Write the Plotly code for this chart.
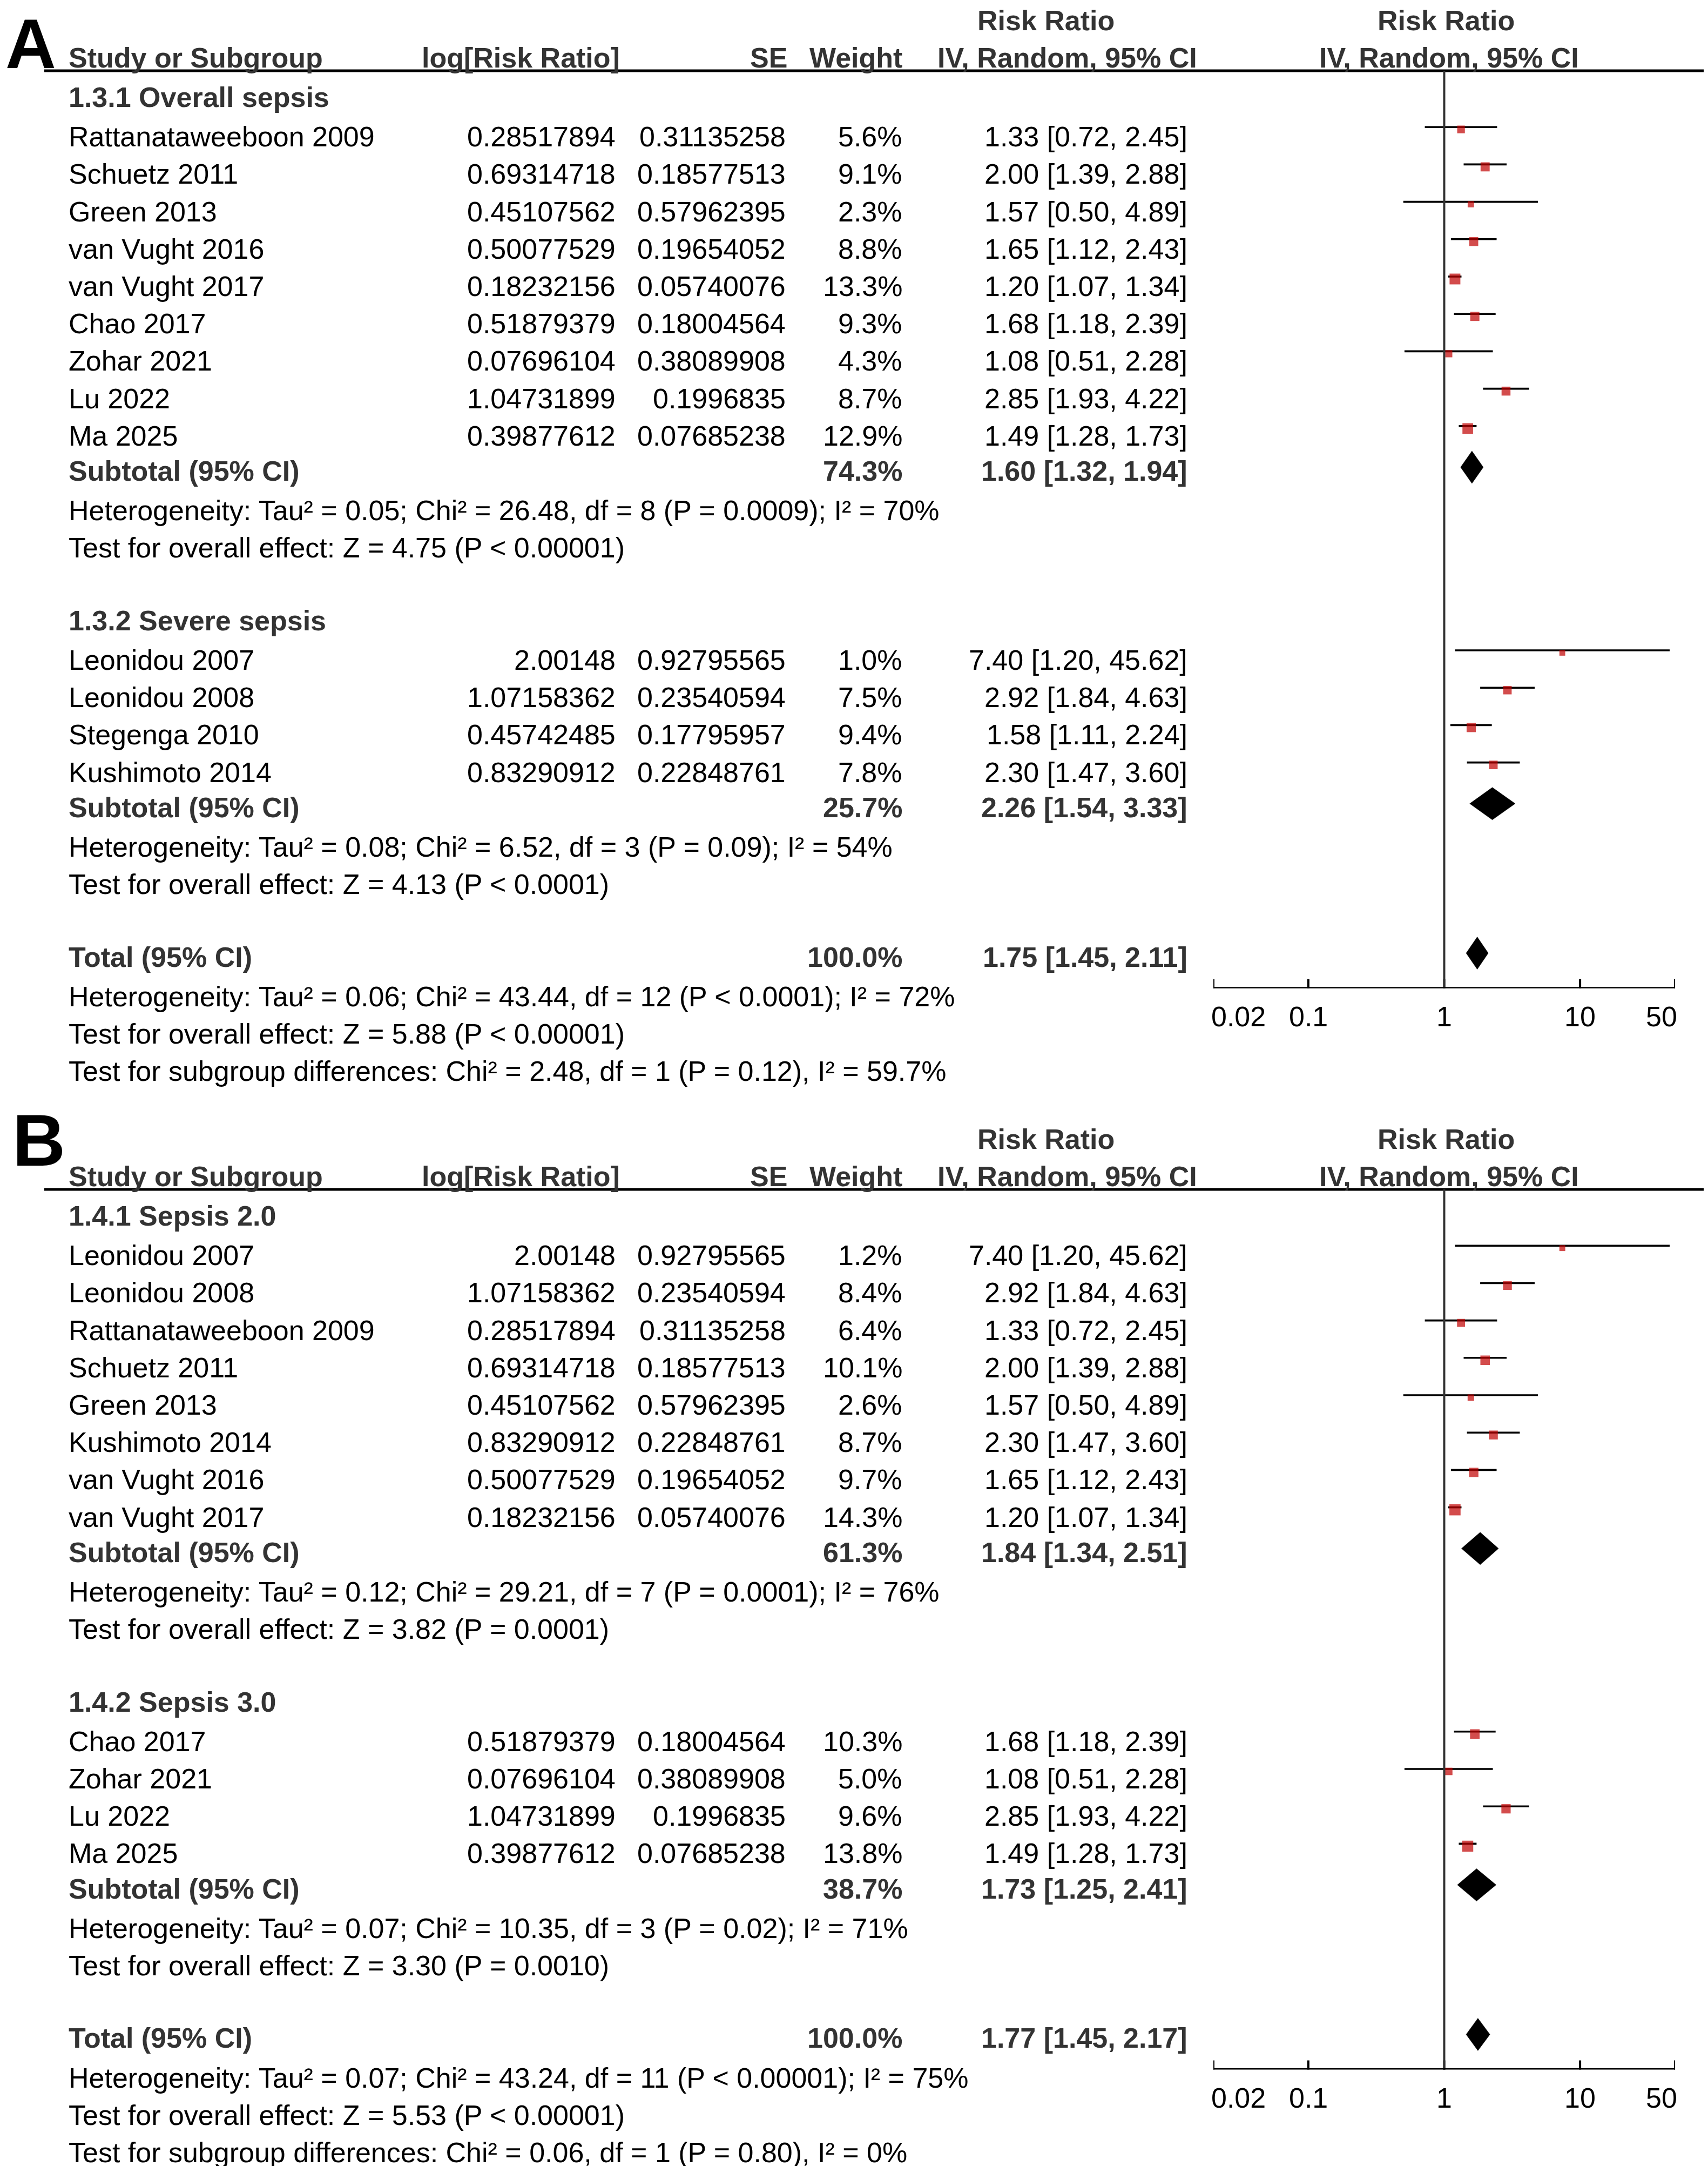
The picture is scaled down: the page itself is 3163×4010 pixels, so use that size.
import math
import plotly.graph_objects as go

# ---------------- data: panel A ----------------
A_G1_TITLE = "1.3.1 Overall sepsis"
A_G1_STUDY = ["Rattanataweeboon 2009", "Schuetz 2011", "Green 2013", "van Vught 2016",
              "van Vught 2017", "Chao 2017", "Zohar 2021", "Lu 2022", "Ma 2025"]
A_G1_LOGRR = [0.28517894, 0.69314718, 0.45107562, 0.50077529, 0.18232156,
              0.51879379, 0.07696104, 1.04731899, 0.39877612]
A_G1_SE = [0.31135258, 0.18577513, 0.57962395, 0.19654052, 0.05740076,
           0.18004564, 0.38089908, 0.1996835, 0.07685238]
A_G1_WEIGHT = [5.6, 9.1, 2.3, 8.8, 13.3, 9.3, 4.3, 8.7, 12.9]
A_G1_RR = [1.33, 2.00, 1.57, 1.65, 1.20, 1.68, 1.08, 2.85, 1.49]
A_G1_LO = [0.72, 1.39, 0.50, 1.12, 1.07, 1.18, 0.51, 1.93, 1.28]
A_G1_HI = [2.45, 2.88, 4.89, 2.43, 1.34, 2.39, 2.28, 4.22, 1.73]
A_G1_SUB_WEIGHT = 74.3
A_G1_SUB_EST = [1.60, 1.32, 1.94]
A_G1_HET = "Heterogeneity: Tau² = 0.05; Chi² = 26.48, df = 8 (P = 0.0009); I² = 70%"
A_G1_TEST = "Test for overall effect: Z = 4.75 (P < 0.00001)"

A_G2_TITLE = "1.3.2 Severe sepsis"
A_G2_STUDY = ["Leonidou 2007", "Leonidou 2008", "Stegenga 2010", "Kushimoto 2014"]
A_G2_LOGRR = [2.00148, 1.07158362, 0.45742485, 0.83290912]
A_G2_SE = [0.92795565, 0.23540594, 0.17795957, 0.22848761]
A_G2_WEIGHT = [1.0, 7.5, 9.4, 7.8]
A_G2_RR = [7.40, 2.92, 1.58, 2.30]
A_G2_LO = [1.20, 1.84, 1.11, 1.47]
A_G2_HI = [45.62, 4.63, 2.24, 3.60]
A_G2_SUB_WEIGHT = 25.7
A_G2_SUB_EST = [2.26, 1.54, 3.33]
A_G2_HET = "Heterogeneity: Tau² = 0.08; Chi² = 6.52, df = 3 (P = 0.09); I² = 54%"
A_G2_TEST = "Test for overall effect: Z = 4.13 (P < 0.0001)"

A_TOTAL_WEIGHT = 100.0
A_TOTAL_EST = [1.75, 1.45, 2.11]
A_TOTAL_NOTES = ["Heterogeneity: Tau² = 0.06; Chi² = 43.44, df = 12 (P < 0.0001); I² = 72%",
                 "Test for overall effect: Z = 5.88 (P < 0.00001)",
                 "Test for subgroup differences: Chi² = 2.48, df = 1 (P = 0.12), I² = 59.7%"]

# ---------------- data: panel B ----------------
B_G1_TITLE = "1.4.1 Sepsis 2.0"
B_G1_STUDY = ["Leonidou 2007", "Leonidou 2008", "Rattanataweeboon 2009", "Schuetz 2011",
              "Green 2013", "Kushimoto 2014", "van Vught 2016", "van Vught 2017"]
B_G1_LOGRR = [2.00148, 1.07158362, 0.28517894, 0.69314718, 0.45107562,
              0.83290912, 0.50077529, 0.18232156]
B_G1_SE = [0.92795565, 0.23540594, 0.31135258, 0.18577513, 0.57962395,
           0.22848761, 0.19654052, 0.05740076]
B_G1_WEIGHT = [1.2, 8.4, 6.4, 10.1, 2.6, 8.7, 9.7, 14.3]
B_G1_RR = [7.40, 2.92, 1.33, 2.00, 1.57, 2.30, 1.65, 1.20]
B_G1_LO = [1.20, 1.84, 0.72, 1.39, 0.50, 1.47, 1.12, 1.07]
B_G1_HI = [45.62, 4.63, 2.45, 2.88, 4.89, 3.60, 2.43, 1.34]
B_G1_SUB_WEIGHT = 61.3
B_G1_SUB_EST = [1.84, 1.34, 2.51]
B_G1_HET = "Heterogeneity: Tau² = 0.12; Chi² = 29.21, df = 7 (P = 0.0001); I² = 76%"
B_G1_TEST = "Test for overall effect: Z = 3.82 (P = 0.0001)"

B_G2_TITLE = "1.4.2 Sepsis 3.0"
B_G2_STUDY = ["Chao 2017", "Zohar 2021", "Lu 2022", "Ma 2025"]
B_G2_LOGRR = [0.51879379, 0.07696104, 1.04731899, 0.39877612]
B_G2_SE = [0.18004564, 0.38089908, 0.1996835, 0.07685238]
B_G2_WEIGHT = [10.3, 5.0, 9.6, 13.8]
B_G2_RR = [1.68, 1.08, 2.85, 1.49]
B_G2_LO = [1.18, 0.51, 1.93, 1.28]
B_G2_HI = [2.39, 2.28, 4.22, 1.73]
B_G2_SUB_WEIGHT = 38.7
B_G2_SUB_EST = [1.73, 1.25, 2.41]
B_G2_HET = "Heterogeneity: Tau² = 0.07; Chi² = 10.35, df = 3 (P = 0.02); I² = 71%"
B_G2_TEST = "Test for overall effect: Z = 3.30 (P = 0.0010)"

B_TOTAL_WEIGHT = 100.0
B_TOTAL_EST = [1.77, 1.45, 2.17]
B_TOTAL_NOTES = ["Heterogeneity: Tau² = 0.07; Chi² = 43.24, df = 11 (P < 0.00001); I² = 75%",
                 "Test for overall effect: Z = 5.53 (P < 0.00001)",
                 "Test for subgroup differences: Chi² = 0.06, df = 1 (P = 0.80), I² = 0%"]

TICK_VALS = [0.02, 0.1, 1, 10, 50]
TICK_TEXT = ["0.02", "0.1", "1", "10", "50"]
HEADERS = ["Study or Subgroup", "log[Risk Ratio]", "SE", "Weight",
           "Risk Ratio", "IV, Random, 95% CI"]


def group(title, study, logrr, se, weight, rr, lo, hi, subw, subest, het, test):
    return dict(title=title, study=study, logrr=logrr, se=se, weight=weight, rr=rr,
                lo=lo, hi=hi, subw=subw, subest=subest, het=het, test=test)


PANELS = [
    dict(letter="A",
         groups=[group(A_G1_TITLE, A_G1_STUDY, A_G1_LOGRR, A_G1_SE, A_G1_WEIGHT, A_G1_RR,
                       A_G1_LO, A_G1_HI, A_G1_SUB_WEIGHT, A_G1_SUB_EST, A_G1_HET, A_G1_TEST),
                 group(A_G2_TITLE, A_G2_STUDY, A_G2_LOGRR, A_G2_SE, A_G2_WEIGHT, A_G2_RR,
                       A_G2_LO, A_G2_HI, A_G2_SUB_WEIGHT, A_G2_SUB_EST, A_G2_HET, A_G2_TEST)],
         totw=A_TOTAL_WEIGHT, totest=A_TOTAL_EST, notes=A_TOTAL_NOTES),
    dict(letter="B",
         groups=[group(B_G1_TITLE, B_G1_STUDY, B_G1_LOGRR, B_G1_SE, B_G1_WEIGHT, B_G1_RR,
                       B_G1_LO, B_G1_HI, B_G1_SUB_WEIGHT, B_G1_SUB_EST, B_G1_HET, B_G1_TEST),
                 group(B_G2_TITLE, B_G2_STUDY, B_G2_LOGRR, B_G2_SE, B_G2_WEIGHT, B_G2_RR,
                       B_G2_LO, B_G2_HI, B_G2_SUB_WEIGHT, B_G2_SUB_EST, B_G2_HET, B_G2_TEST)],
         totw=B_TOTAL_WEIGHT, totest=B_TOTAL_EST, notes=B_TOTAL_NOTES),
]

# ---------------- layout / style (positions in page pixels) ----------------
W, H = 3163, 4010
BODY = 8                           # default page margin of the html body
FONT = "Liberation Sans, Arial, Helvetica, sans-serif"
FS = 52
BOLD_C = "#333333"
TXT_C = "#000000"
RED = "#C00000"
PITCH = 69.2                       # px per row
ROW0 = [180, 2251]                 # page px of first row centre per panel
REG_DY = 4                         # regular text sits a little lower than bold
LETTER = [dict(x=BODY, y=6, yanchor="top", size=130),
          dict(x=21, y=2111, yanchor="middle", size=136)]
HDR_LINE_DY = -49
HDR1_DY = -142
HDR2_DY = -73
AXIS_AFTER_TOTAL = 0.84            # rows below total row
TICKLAB_DY = 52
TICKLAB_SHIFT = 6
X_LEFT, X_RIGHT = 2247, 3102       # page px of forest x-axis ends
COL_NAME = 125
COL_LOG = 1142
COL_SE = 1457
COL_W = 1673
COL_CI = 2201
HDR_LOG = 1150
HDR_SE = 1460
HDR_CI1 = 1937
HDR_CI2 = 1976
HDR_RR1 = 2678
HDR_RR2 = 2683
LINE_DY = -14                      # CI line offset (px) relative to row centre
SQ_DY = -9.5
DIA_DY = -7
DIA_HALF = 30
TICK_HALF = 17


def px2x(x):
    return (x - BODY) / W


def px2y(y):
    return 1 - (y - BODY) / H


fig = go.Figure()
annotations = []
shapes = []


def ann(text, x, y, anchor="left", bold=False, size=FS, color=None, yanchor="middle"):
    if not bold and yanchor == "middle":
        y = y + REG_DY
    annotations.append(dict(
        text=f"<b>{text}</b>" if bold else text, x=px2x(x), y=px2y(y), xref="paper", yref="paper",
        xanchor=anchor, yanchor=yanchor, showarrow=False, align="left",
        font=dict(family=FONT, size=size, color=color or (BOLD_C if bold else TXT_C))))


def fmt_ci(est):
    return f"{est[0]:.2f} [{est[1]:.2f}, {est[2]:.2f}]"


for p, panel in enumerate(PANELS):
    r0 = ROW0[p]
    ax = "" if p == 0 else str(p + 1)
    xname, yname = "x" + ax, "y" + ax

    def ypx(r):
        return r0 + r * PITCH

    # letter and headers
    lt = LETTER[p]
    ann(panel["letter"], lt["x"], lt["y"], bold=True, size=lt["size"],
        color="#000000", yanchor=lt["yanchor"])
    ann(HEADERS[4], HDR_CI1, r0 + HDR1_DY, "center", bold=True)
    ann(HEADERS[4], HDR_RR1, r0 + HDR1_DY, "center", bold=True)
    ann(HEADERS[0], COL_NAME, r0 + HDR2_DY, "left", bold=True)
    ann(HEADERS[1], HDR_LOG, r0 + HDR2_DY, "right", bold=True)
    ann(HEADERS[2], HDR_SE, r0 + HDR2_DY, "right", bold=True)
    ann(HEADERS[3], COL_W, r0 + HDR2_DY, "right", bold=True)
    ann(HEADERS[5], HDR_CI2, r0 + HDR2_DY, "center", bold=True)
    ann(HEADERS[5], HDR_RR2, r0 + HDR2_DY, "center", bold=True)
    hdr_px = r0 + HDR_LINE_DY
    shapes.append(dict(type="line", xref="paper", yref="paper", x0=px2x(82), x1=1,
                       y0=px2y(hdr_px), y1=px2y(hdr_px), line=dict(color="#000000", width=5)))

    ci_x, ci_y, sq_x, sq_y, sq_s = [], [], [], [], []
    diamonds = []
    r = 0
    for g in panel["groups"]:
        ann(g["title"], COL_NAME, ypx(r), bold=True)
        r += 1
        for i, name in enumerate(g["study"]):
            ann(name, COL_NAME, ypx(r))
            ann(str(g["logrr"][i]), COL_LOG, ypx(r), "right")
            ann(str(g["se"][i]), COL_SE, ypx(r), "right")
            ann(f"{g['weight'][i]:.1f}%", COL_W, ypx(r), "right")
            ann(fmt_ci([g["rr"][i], g["lo"][i], g["hi"][i]]), COL_CI, ypx(r), "right")
            ci_x += [g["lo"][i], g["hi"][i], None]
            ci_y += [r + LINE_DY / PITCH] * 2 + [None]
            sq_x.append(g["rr"][i])
            sq_y.append(r + SQ_DY / PITCH)
            sq_s.append(10 + 0.75 * g["weight"][i])
            r += 1
        ann("Subtotal (95% CI)", COL_NAME, ypx(r), bold=True)
        ann(f"{g['subw']:.1f}%", COL_W, ypx(r), "right", bold=True)
        ann(fmt_ci(g["subest"]), COL_CI, ypx(r), "right", bold=True)
        diamonds.append((g["subest"], r))
        r += 1
        ann(g["het"], COL_NAME, ypx(r))
        r += 1
        ann(g["test"], COL_NAME, ypx(r))
        r += 2
    ann("Total (95% CI)", COL_NAME, ypx(r), bold=True)
    ann(f"{panel['totw']:.1f}%", COL_W, ypx(r), "right", bold=True)
    ann(fmt_ci(panel["totest"]), COL_CI, ypx(r), "right", bold=True)
    diamonds.append((panel["totest"], r))
    axis_r = r + AXIS_AFTER_TOTAL
    for note in panel["notes"]:
        r += 1
        ann(note, COL_NAME, ypx(r))

    hdr_r = HDR_LINE_DY / PITCH
    axis_px = ypx(axis_r)

    # CI lines
    fig.add_trace(go.Scatter(x=ci_x, y=ci_y, mode="lines", xaxis=xname, yaxis=yname,
                             line=dict(color="#000000", width=3.6), hoverinfo="skip",
                             showlegend=False))
    # squares
    fig.add_trace(go.Scatter(x=sq_x, y=sq_y, mode="markers", xaxis=xname, yaxis=yname,
                             marker=dict(symbol="square", color=RED, size=sq_s,
                                         line=dict(width=0)),
                             showlegend=False, hoverinfo="skip"))
    # diamonds
    dh = DIA_HALF / PITCH
    for est, rr in diamonds:
        yc = rr + DIA_DY / PITCH
        fig.add_trace(go.Scatter(x=[est[1], est[0], est[2], est[0], est[1]],
                                 y=[yc, yc - dh, yc, yc + dh, yc],
                                 mode="lines", fill="toself", fillcolor="#000000",
                                 line=dict(color="#000000", width=0.5),
                                 xaxis=xname, yaxis=yname, showlegend=False,
                                 hoverinfo="skip"))
    # tick marks crossing the axis line
    tx, ty = [], []
    for t in TICK_VALS:
        tx += [t, t, None]
        ty += [axis_r - TICK_HALF / PITCH, axis_r + TICK_HALF / PITCH, None]
    fig.add_trace(go.Scatter(x=tx, y=ty, mode="lines", xaxis=xname, yaxis=yname,
                             line=dict(color="#000000", width=4), showlegend=False,
                             hoverinfo="skip", cliponaxis=False))
    # tick labels (end labels aligned inwards, as in RevMan)
    last = len(TICK_VALS) - 1
    for k, (t, lab) in enumerate(zip(TICK_VALS, TICK_TEXT)):
        xa = "left" if k == 0 else ("right" if k == last else "center")
        xs = -TICKLAB_SHIFT if k == 0 else (TICKLAB_SHIFT if k == last else 0)
        annotations.append(dict(text=lab, x=math.log10(t), xref=xname,
                                y=px2y(axis_px + TICKLAB_DY), yref="paper", xshift=xs,
                                xanchor=xa, yanchor="middle", showarrow=False,
                                font=dict(family=FONT, size=FS, color="#000000")))

    # vertical line of no effect
    shapes.append(dict(type="line", xref=xname, yref=yname + " domain", x0=1, x1=1, y0=0, y1=1,
                       line=dict(color="#333333", width=4)))
    # axis line
    shapes.append(dict(type="line", xref=xname, yref=yname, x0=TICK_VALS[0], x1=TICK_VALS[-1],
                       y0=axis_r, y1=axis_r, line=dict(color="#000000", width=5)))

    fig.update_layout({
        "xaxis" + ax: dict(type="log", range=[math.log10(TICK_VALS[0]), math.log10(TICK_VALS[-1])],
                           domain=[px2x(X_LEFT), px2x(X_RIGHT)], anchor=yname,
                           showline=False, ticks="", showticklabels=False, automargin=False,
                           showgrid=False, zeroline=False, fixedrange=True),
        "yaxis" + ax: dict(range=[axis_r, hdr_r], domain=[px2y(axis_px), px2y(hdr_px)],
                           anchor=xname, visible=False, showgrid=False, zeroline=False,
                           automargin=False, fixedrange=True),
    })

fig.update_layout(template="none", width=W, height=H, autosize=False,
                  margin=dict(l=0, r=0, t=0, b=0, pad=0),
                  plot_bgcolor="white", paper_bgcolor="white",
                  annotations=annotations, shapes=shapes, showlegend=False,
                  font=dict(family=FONT, size=FS))
fig.write_html("out.html")
